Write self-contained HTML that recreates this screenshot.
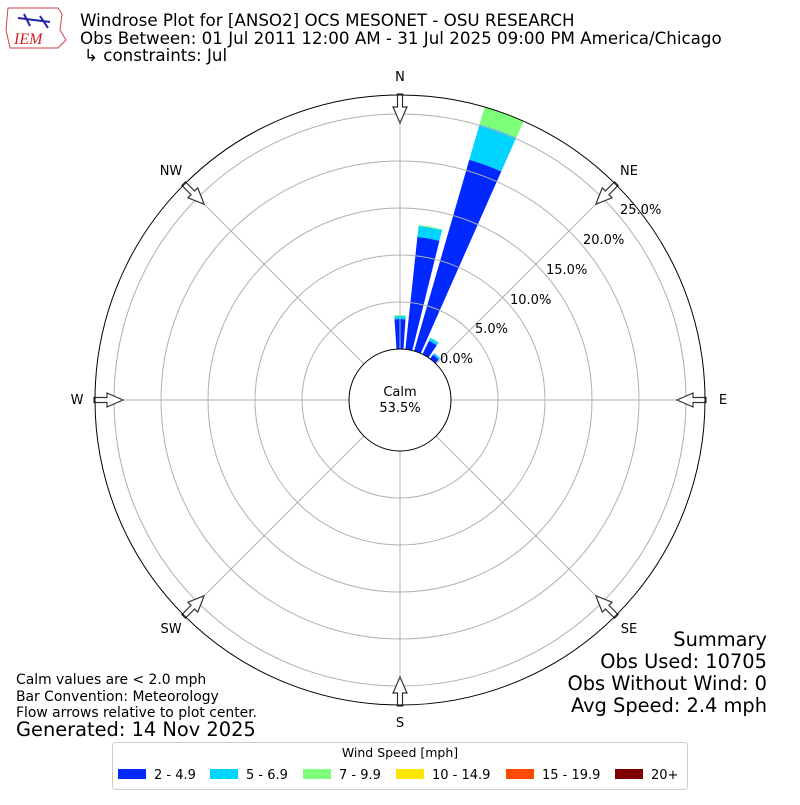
<!DOCTYPE html>
<html><head><meta charset="utf-8"><style>
body{margin:0;background:#fff;width:800px;height:800px;overflow:hidden;font-family:"Liberation Sans","DejaVu Sans",sans-serif;}
</style></head><body>
<svg id="s" width="800" height="800" xmlns="http://www.w3.org/2000/svg" font-family="DejaVu Sans, Liberation Sans, sans-serif">
<rect width="800" height="800" fill="#fff"/>
<g>
<path d="M8 8 L58 8 L62 14 L60 30 L66 40 L58 48 L10 48 L6 30 Z" fill="#fff" stroke="#c44" stroke-width="1"/>
<text x="14" y="44" font-family="Liberation Serif,serif" font-style="italic" font-size="16" fill="#c22">IEM</text>
<path d="M18 18 L50 22 M24 14 L30 26 M40 16 L48 28" stroke="#22a" stroke-width="2"/>
</g>
<text x="80" y="26" font-size="16.7">Windrose Plot for [ANSO2] OCS MESONET - OSU RESEARCH</text>
<text x="80" y="44" font-size="16.7">Obs Between: 01 Jul 2011 12:00 AM - 31 Jul 2025 09:00 PM America/Chicago</text>
<text x="84" y="61" font-size="16.7">↳ constraints: Jul</text>
<g id="bars"></g>
<g id="grid"></g>
<g id="arrows"></g>
<circle cx="400" cy="400" r="51" fill="#fff" stroke="#000" stroke-width="1"/>
<text x="400" y="396" font-size="13" text-anchor="middle">Calm</text>
<text x="400" y="412" font-size="13" text-anchor="middle">53.5%</text>
<circle cx="400" cy="400" r="305" fill="none" stroke="#000" stroke-width="1"/>
<g font-size="13" text-anchor="middle">
<text x="400" y="81">N</text><text x="400" y="727">S</text>
<text x="723" y="404">E</text><text x="77" y="404">W</text>
<text x="629" y="175">NE</text><text x="171" y="175">NW</text>
<text x="629" y="633">SE</text><text x="171" y="633">SW</text>
</g>
<g font-size="13">
<text x="440" y="363">0.0%</text><text x="475" y="333">5.0%</text>
<text x="510" y="304">10.0%</text><text x="546" y="274">15.0%</text>
<text x="583" y="244">20.0%</text><text x="620" y="214">25.0%</text>
</g>
<g font-size="19.4" text-anchor="end">
<text x="767" y="646">Summary</text>
<text x="767" y="668">Obs Used: 10705</text>
<text x="767" y="690">Obs Without Wind: 0</text>
<text x="767" y="712">Avg Speed: 2.4 mph</text>
</g>
<g font-size="13.9">
<text x="16" y="684">Calm values are &lt; 2.0 mph</text>
<text x="16" y="701">Bar Convention: Meteorology</text>
<text x="16" y="717">Flow arrows relative to plot center.</text>
<text x="16" y="736" font-size="19.4">Generated: 14 Nov 2025</text>
</g>
<rect x="112.5" y="742.5" width="575" height="47" rx="3" fill="#fff" stroke="#ccc"/>
<text x="400" y="757" font-size="12.5" text-anchor="middle">Wind Speed [mph]</text>
<g font-size="13">
<rect x="118" y="769" width="28" height="10" fill="#0028ff"/><text x="154" y="779">2 - 4.9</text>
<rect x="210" y="769" width="28" height="10" fill="#00d4ff"/><text x="246" y="779">5 - 6.9</text>
<rect x="303" y="769" width="28" height="10" fill="#7dff7a"/><text x="339" y="779">7 - 9.9</text>
<rect x="396" y="769" width="28" height="10" fill="#ffe600"/><text x="432" y="779">10 - 14.9</text>
<rect x="506" y="769" width="28" height="10" fill="#ff4a00"/><text x="542" y="779">15 - 19.9</text>
<rect x="615" y="769" width="28" height="10" fill="#800000"/><text x="651" y="779">20+</text>
</g>
</svg>
<script>
var NS="http://www.w3.org/2000/svg",cx=400,cy=400;
function el(p,t,a){var e=document.createElementNS(NS,t);for(var k in a)e.setAttribute(k,a[k]);p.appendChild(e);return e;}
var g=document.getElementById('grid');
[98,145,192,239,286].forEach(function(r){el(g,'circle',{cx:cx,cy:cy,r:r,fill:'none',stroke:'#b0b0b0','stroke-width':1});});
for(var a=0;a<360;a+=45){var t=a*Math.PI/180;el(g,'line',{x1:cx+51*Math.sin(t),y1:cy-51*Math.cos(t),x2:cx+305*Math.sin(t),y2:cy-305*Math.cos(t),stroke:'#b0b0b0','stroke-width':1});}
function P(r,d){var t=d*Math.PI/180;return (cx+r*Math.sin(t)).toFixed(1)+','+(cy-r*Math.cos(t)).toFixed(1);}
function wedge(d,r0,r1,c){var w=3.9;el(document.getElementById('bars'),'path',{d:'M'+P(r0,d-w)+'A'+r0+','+r0+' 0 0 1 '+P(r0,d+w)+'L'+P(r1,d+w)+'A'+r1+','+r1+' 0 0 0 '+P(r1,d-w)+'Z',fill:c});}
var cols=['#0028ff','#00d4ff','#7dff7a'];
var data=[[0,[51,81,84,85]],[10,[51,164,175,176]],[20,[51,250,287,305]],[30,[51,66,69,69.5]],[40,[51,56,58,58]]];
data.forEach(function(b){for(var i=0;i<3;i++)if(b[1][i+1]>b[1][i])wedge(b[0],b[1][i],b[1][i+1],cols[i]);});
var ar=document.getElementById('arrows');
for(var a=0;a<360;a+=45){
// local: y negative = outward; shaft at outer ring, head pointing inward
var gg=el(ar,'g',{transform:'translate(400 400) rotate('+a+')'});
el(gg,'polygon',{points:'-2.5,-306 2.5,-306 2.5,-293 7,-293 0,-277 -7,-293 -2.5,-293',fill:'#fff',stroke:'#333','stroke-width':1.2});}
</script>
</body></html>
